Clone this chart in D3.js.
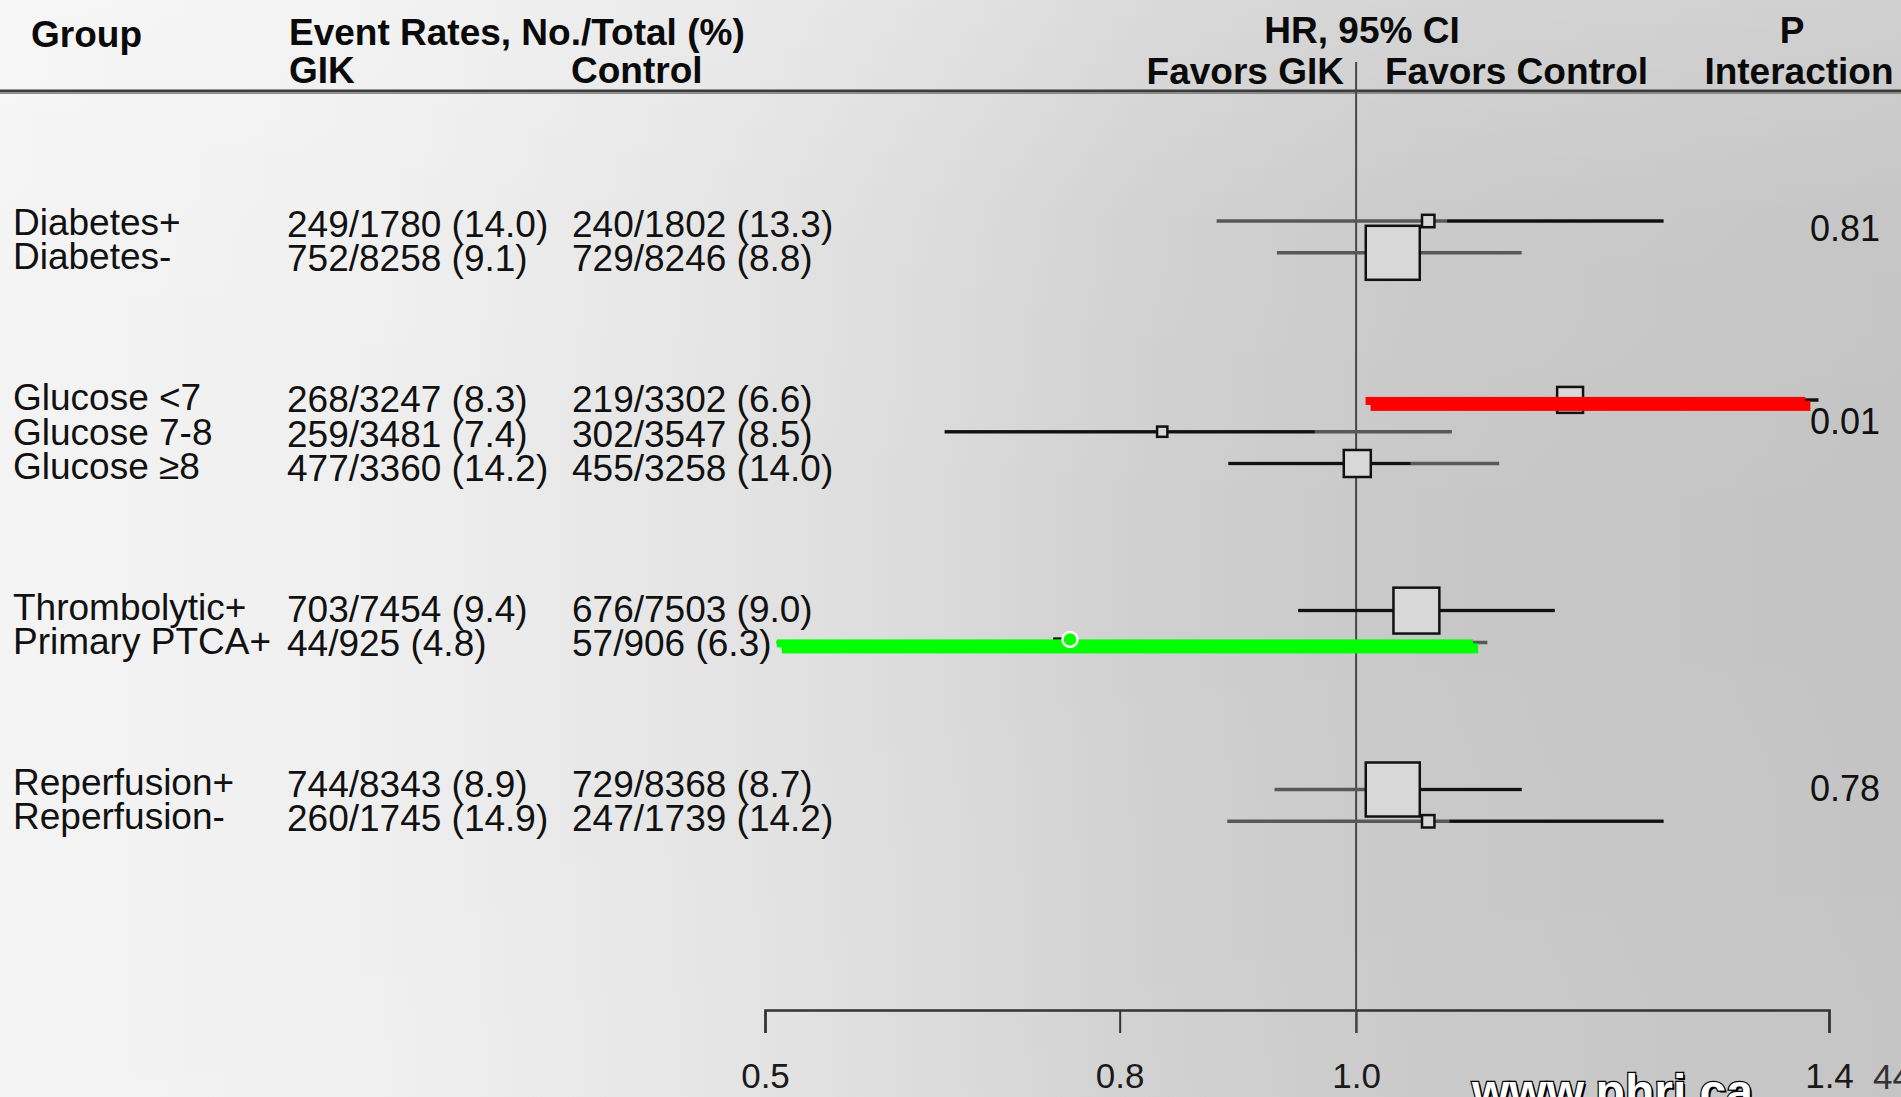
<!DOCTYPE html>
<html><head><meta charset="utf-8">
<script src="https://cdn.jsdelivr.net/npm/d3@7"></script>
<style>html,body{margin:0;padding:0;overflow:hidden;background:#ddd}svg{display:block}</style>
</head><body>
<svg id="chart" width="1901" height="1097"></svg>
<script>
// ---------- data ----------
const groupIndex   = [0, 0, 1, 1, 1, 2, 2, 3, 3];
const labels       = ["Diabetes+", "Diabetes-", "Glucose <7", "Glucose 7-8", "Glucose \u22658", "Thrombolytic+", "Primary PTCA+", "Reperfusion+", "Reperfusion-"];
const gikRates     = ["249/1780 (14.0)", "752/8258 (9.1)", "268/3247 (8.3)", "259/3481 (7.4)", "477/3360 (14.2)", "703/7454 (9.4)", "44/925 (4.8)", "744/8343 (8.9)", "260/1745 (14.9)"];
const controlRates = ["240/1802 (13.3)", "729/8246 (8.8)", "219/3302 (6.6)", "302/3547 (8.5)", "455/3258 (14.0)", "676/7503 (9.0)", "57/906 (6.3)", "729/8368 (8.7)", "247/1739 (14.2)"];
const hr           = [1.061, 1.031, 1.181, 0.836, 1.001, 1.051, 0.748, 1.031, 1.061];
const ciLow        = [0.882, 0.933, 1.010, 0.652, 0.892, 0.951, 0.510, 0.931, 0.891];
const ciHigh       = [1.260, 1.140, 1.391, 1.081, 1.121, 1.168, 1.111, 1.140, 1.260];
const weight       = [0.23, 1.00, 0.48, 0.19, 0.50, 0.85, 0.14, 1.00, 0.23];
// part of each CI drawn in the darker tone (HR units)
const darkLow      = [1.077, null, 1.010, 0.652, 0.892, 0.951, 0.510, 1.030, 1.079];
const darkHigh     = [1.260, null, 1.391, 0.965, 1.046, 1.168, 0.538, 1.140, 1.260];
const pGroups      = [0, 1, 3];
const pValues      = ["0.81", "0.01", "0.78"];
const highlightRow  = [2, 6];
const highlightLow  = [1.008, 0.510];
const highlightHigh = [1.380, 1.099];
const highlightDot  = [null, 0.758];
const tickValues   = [0.5, 0.8, 1.0, 1.4];
const tickLabels   = ["0.5", "0.8", "1.0", "1.4"];

// ---------- setup ----------
const W = 1901, H = 1097;
const FONT = "'Liberation Sans', Arial, Helvetica, sans-serif";
const svg = d3.select("#chart").style("font-family", FONT);
const defs = svg.append("defs");

const bg = defs.append("linearGradient").attr("id", "bg")
  .attr("x1", 0).attr("x2", 1).attr("y1", 0).attr("y2", 0);
[[0, "#f4f4f4"], [0.2, "#efefef"], [0.38, "#e4e4e4"], [0.5, "#dadada"],
 [0.6, "#d0d0d0"], [0.75, "#c8c8c8"], [1, "#c3c3c3"]]
  .forEach(([o, c]) => bg.append("stop").attr("offset", o).attr("stop-color", c));
const vg = defs.append("linearGradient").attr("id", "vg")
  .attr("x1", 0).attr("x2", 0).attr("y1", 0).attr("y2", 1);
[[0, 0.22], [0.2, 0.05], [0.5, 0], [1, 0.04]]
  .forEach(([o, a]) => vg.append("stop").attr("offset", o).attr("stop-color", "#fff").attr("stop-opacity", a));

svg.append("rect").attr("width", W).attr("height", H).attr("fill", "url(#bg)");
svg.append("rect").attr("width", W).attr("height", H).attr("fill", "url(#vg)");

// scales
const x = d3.scaleLinear().domain([0.5, 1.4]).range([765, 1829]);
const size = d3.scaleLinear().domain([0, 1]).range([0, 54]);
const rows = d3.range(labels.length);
const textY = i => 234 + 34.4 * i + 106.3 * groupIndex[i];
const markY = i => 221 + 31.8 * i + 115.3 * groupIndex[i];

// ---------- header ----------
const head = svg.append("g").attr("font-weight", "bold").attr("font-size", 37).attr("fill", "#0a0a0a");
head.append("text").attr("x", 31).attr("y", 47).text("Group");
head.append("text").attr("x", 289).attr("y", 45).text("Event Rates, No./Total (%)");
head.append("text").attr("x", 289).attr("y", 83).text("GIK");
head.append("text").attr("x", 571).attr("y", 83).text("Control");
head.append("text").attr("x", 1362).attr("y", 43).attr("text-anchor", "middle").text("HR, 95% CI");
head.append("text").attr("x", 1344).attr("y", 84).attr("text-anchor", "end").text("Favors GIK");
head.append("text").attr("x", 1385).attr("y", 84).text("Favors Control");
head.append("text").attr("x", 1792).attr("y", 43).attr("text-anchor", "middle").text("P");
head.append("text").attr("x", 1799).attr("y", 84).attr("text-anchor", "middle").text("Interaction");

svg.append("line").attr("x1", 0).attr("x2", W).attr("y1", 91).attr("y2", 91)
  .attr("stroke", "#3c3c3c").attr("stroke-width", 3);
svg.append("line").attr("x1", 0).attr("x2", W).attr("y1", 93.5).attr("y2", 93.5)
  .attr("stroke", "#8a8a8a").attr("stroke-width", 1);

// ---------- table text ----------
const body = svg.append("g").attr("font-size", 37).attr("fill", "#111");
body.selectAll("text.lab").data(rows).join("text").attr("class", "lab")
  .attr("x", 13).attr("y", i => textY(i) + 1).text(i => labels[i]);
body.selectAll("text.gik").data(rows).join("text").attr("class", "gik")
  .attr("x", 287).attr("y", i => textY(i) + 3).text(i => gikRates[i]);
body.selectAll("text.ctl").data(rows).join("text").attr("class", "ctl")
  .attr("x", 572).attr("y", i => textY(i) + 3).text(i => controlRates[i]);

body.selectAll("text.p").data(pGroups).join("text").attr("class", "p")
  .attr("x", 1810).attr("font-size", 36)
  .attr("y", (g) => d3.mean(rows.filter(i => groupIndex[i] === g), textY) - 10)
  .text((g, k) => pValues[k]);

// ---------- axis & reference line ----------
const axisG = svg.append("g").attr("transform", "translate(0,1010)")
  .call(d3.axisBottom(x).tickValues(tickValues).tickSize(23).tickSizeOuter(23)
    .tickPadding(30).tickFormat((d, k) => tickLabels[k]));
axisG.select(".domain").attr("stroke", "#333").attr("stroke-width", 2.5);
axisG.selectAll(".tick line").attr("stroke", "#333").attr("stroke-width", 2);
axisG.selectAll(".tick text").attr("font-size", 35).attr("fill", "#1a1a1a")
  .attr("font-family", FONT);

svg.append("line").attr("x1", x(1)).attr("x2", x(1)).attr("y1", 62).attr("y2", 1033)
  .attr("stroke", "#474747").attr("stroke-width", 2);

// ---------- forest marks ----------
const plot = svg.append("g");
plot.selectAll("line.ci").data(rows).join("line").attr("class", "ci")
  .attr("x1", i => x(ciLow[i])).attr("x2", i => x(ciHigh[i]))
  .attr("y1", i => markY(i)).attr("y2", i => markY(i))
  .attr("stroke", "#585858").attr("stroke-width", 3.5);
plot.selectAll("line.dark").data(rows.filter(i => darkLow[i] !== null)).join("line").attr("class", "dark")
  .attr("x1", i => x(darkLow[i])).attr("x2", i => x(darkHigh[i]))
  .attr("y1", i => markY(i)).attr("y2", i => markY(i))
  .attr("stroke", "#111").attr("stroke-width", 3);
plot.selectAll("rect.box").data(rows).join("rect").attr("class", "box")
  .attr("x", i => x(hr[i]) - size(weight[i]) / 2)
  .attr("y", i => markY(i) - size(weight[i]) / 2)
  .attr("width", i => size(weight[i])).attr("height", i => size(weight[i]))
  .attr("fill", "#d8d8d8").attr("stroke", "#111").attr("stroke-width", 2.5);

// ---------- highlight overlays ----------
const hlColor = ["#ff0000", "#00ff00"];
const hl = svg.append("g");
highlightRow.forEach((r, k) => {
  const y0 = markY(r);
  hl.append("rect").attr("x", x(highlightLow[k])).attr("y", y0 - 3)
    .attr("width", x(highlightHigh[k]) - x(highlightLow[k])).attr("height", 8)
    .attr("fill", hlColor[k]);
  hl.append("rect").attr("x", x(highlightLow[k]) + 5).attr("y", y0 + 1)
    .attr("width", x(highlightHigh[k]) - x(highlightLow[k])).attr("height", 10)
    .attr("fill", hlColor[k]);
  if (highlightDot[k] !== null) {
    hl.append("circle").attr("cx", x(highlightDot[k])).attr("cy", y0 - 3).attr("r", 7.5)
      .attr("fill", hlColor[k]).attr("stroke", "#fff").attr("stroke-width", 2.5);
  }
});

// ---------- footer ----------
svg.append("text").attr("x", 1474).attr("y", 1110).attr("font-size", 48).attr("font-weight", "bold")
  .attr("fill", "#000").text("www.phri.ca");
svg.append("text").attr("x", 1472).attr("y", 1108).attr("font-size", 48).attr("font-weight", "bold")
  .attr("fill", "#fff").attr("stroke", "#000").attr("stroke-width", 2.5)
  .attr("paint-order", "stroke").text("www.phri.ca");
svg.append("text").attr("x", 1873).attr("y", 1089).attr("font-size", 35).attr("fill", "#333").text("44");
</script>
</body></html>
